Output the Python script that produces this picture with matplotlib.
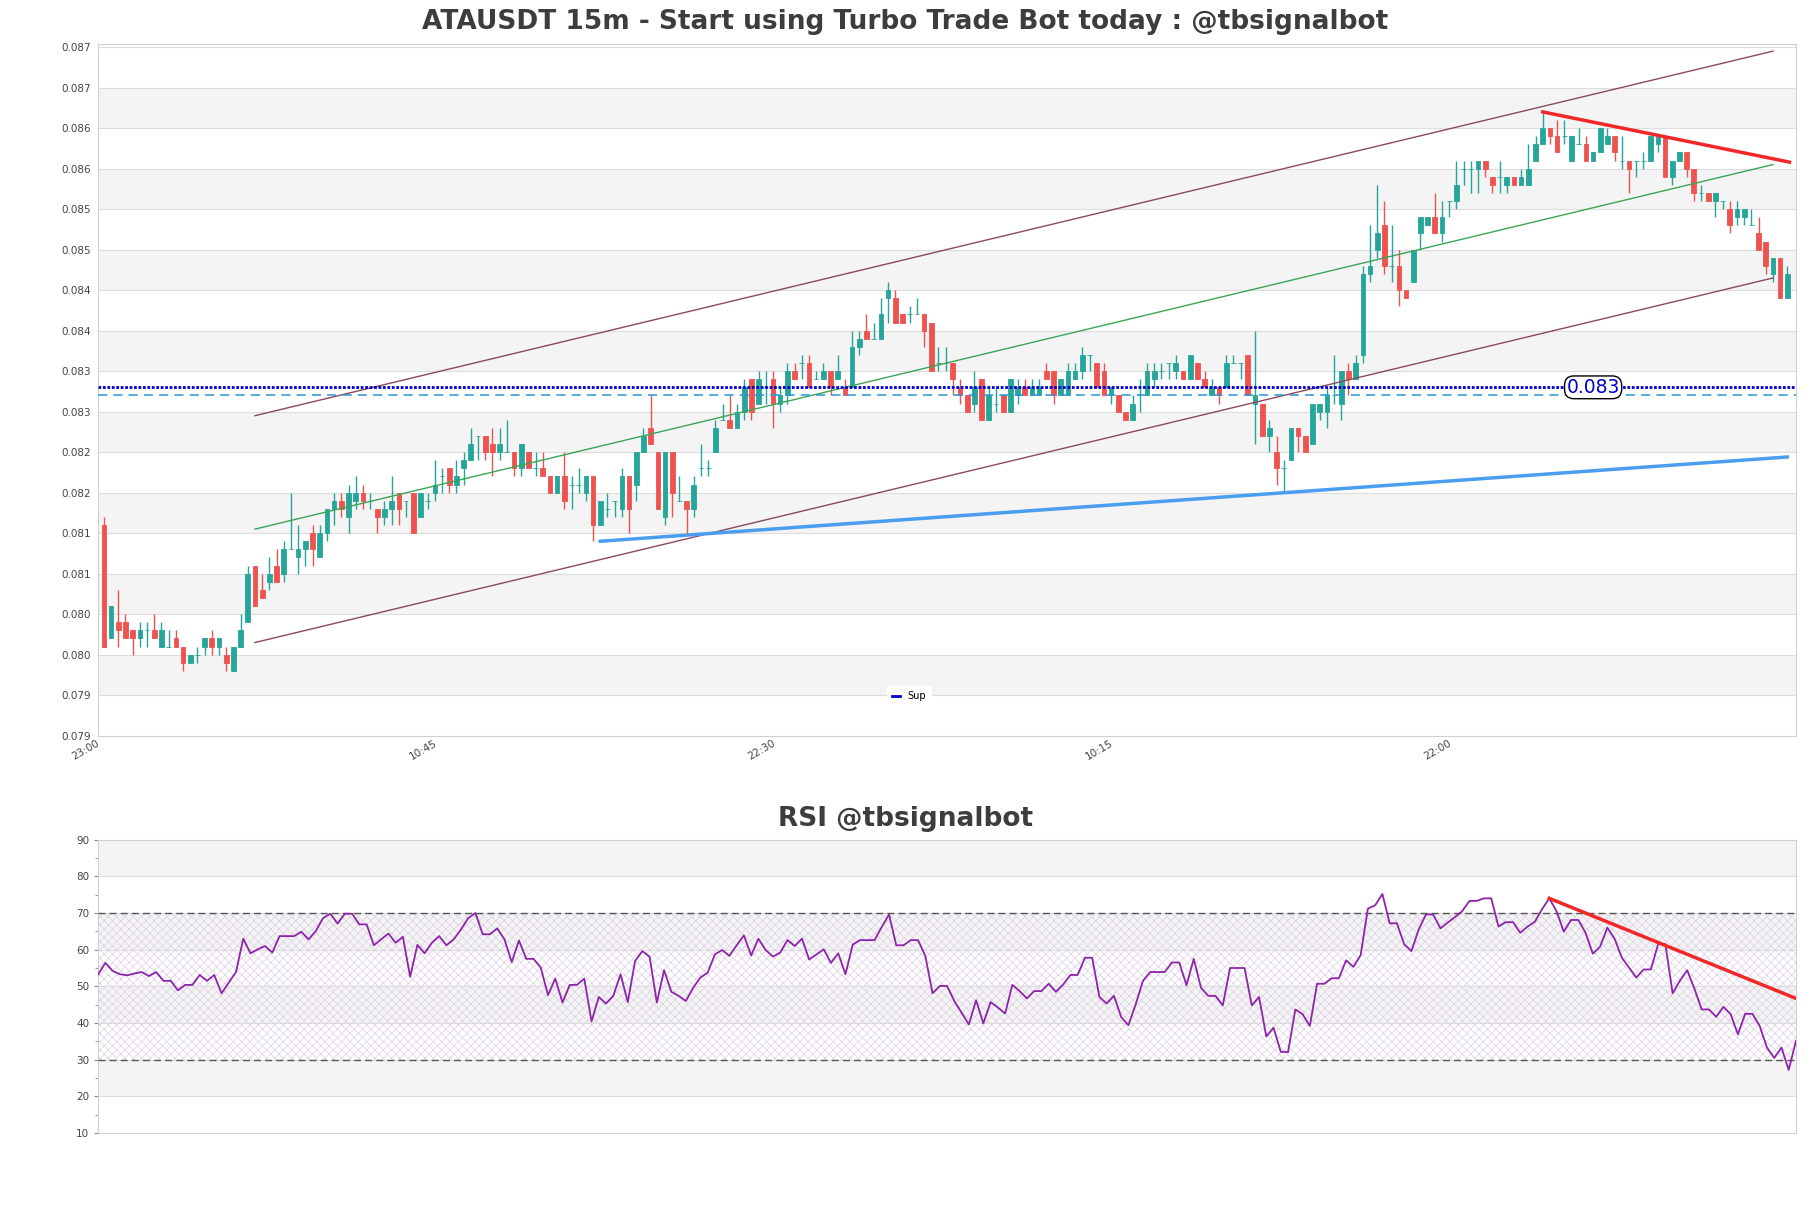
import matplotlib
matplotlib.use("Agg")
import matplotlib.pyplot as plt
from matplotlib.lines import Line2D
from matplotlib.ticker import MultipleLocator
from matplotlib.transforms import ScaledTranslation
import numpy as np

# ---- data (prices in units of 0.0001 USDT, one candle per 15 minutes) ----
TICK = 0.0001

opens = [816, 802, 804, 804, 803, 802, 803, 803, 801, 801, 802, 801, 799, 800, 801, 802, 801, 800, 798, 801,
         804, 811, 808, 809, 811, 810, 813, 812, 813, 815, 812, 815, 818, 819, 817, 819, 820, 819, 818, 817,
         818, 820, 819, 820, 817, 819, 820, 822, 823, 821, 823, 824, 827, 827, 826, 825, 825, 825, 823, 825,
         823, 823, 822, 820, 822, 821, 821, 820, 822, 816, 818, 819, 818, 822, 821, 825, 828, 825, 817, 825,
         819, 819, 818, 823, 823, 825, 829, 829, 828, 830, 834, 831, 833, 834, 831, 832, 835, 836, 836, 834,
         834, 835, 834, 833, 833, 838, 840, 839, 839, 844, 844, 842, 842, 842, 842, 841, 836, 836, 836, 833,
         832, 831, 834, 829, 831, 832, 830, 832, 833, 832, 832, 835, 835, 832, 832, 834, 835, 837, 836, 835,
         832, 832, 830, 829, 832, 832, 834, 835, 836, 835, 835, 834, 836, 834, 832, 833, 833, 836, 836, 837,
         831, 831, 827, 825, 823, 824, 828, 827, 826, 830, 830, 832, 831, 835, 834, 837, 847, 850, 853, 848,
         848, 845, 846, 852, 853, 854, 852, 856, 856, 860, 860, 860, 861, 859, 859, 858, 859, 858, 858, 861,
         863, 865, 864, 864, 861, 863, 863, 861, 862, 863, 864, 861, 861, 861, 861, 861, 863, 864, 859, 861,
         862, 860, 857, 857, 856, 856, 855, 854, 854, 853, 852, 851, 847, 849, 844]
highs = [817, 806, 808, 805, 803, 804, 804, 805, 804, 803, 803, 801, 800, 801, 802, 803, 802, 801, 801, 805,
         811, 811, 810, 812, 813, 814, 820, 816, 814, 816, 816, 818, 820, 820, 821, 822, 821, 820, 818, 819,
         822, 820, 819, 820, 820, 820, 824, 823, 823, 824, 825, 828, 827, 827, 828, 828, 829, 825, 826, 825,
         825, 825, 822, 822, 825, 822, 823, 822, 822, 819, 820, 819, 823, 822, 825, 828, 832, 825, 825, 825,
         822, 819, 822, 826, 824, 829, 831, 832, 831, 834, 834, 835, 835, 835, 833, 836, 836, 837, 837, 835,
         836, 835, 837, 834, 840, 840, 842, 841, 844, 846, 845, 842, 843, 844, 842, 841, 838, 838, 836, 834,
         832, 835, 834, 833, 833, 832, 834, 834, 834, 834, 834, 836, 835, 834, 836, 836, 838, 837, 836, 836,
         833, 832, 830, 832, 834, 836, 836, 836, 836, 837, 835, 837, 836, 835, 834, 833, 837, 837, 836, 837,
         840, 831, 829, 827, 824, 828, 828, 827, 831, 831, 833, 837, 835, 836, 837, 848, 853, 858, 856, 853,
         850, 845, 850, 854, 854, 857, 856, 856, 861, 861, 861, 861, 861, 859, 861, 859, 859, 860, 863, 864,
         867, 865, 866, 866, 864, 865, 864, 862, 865, 865, 864, 864, 861, 861, 862, 864, 864, 864, 861, 862,
         862, 860, 858, 857, 857, 856, 856, 856, 855, 855, 854, 851, 849, 849, 848]
lows = [801, 802, 801, 802, 800, 801, 801, 802, 801, 801, 801, 798, 799, 799, 800, 800, 800, 798, 798, 801,
        804, 806, 807, 808, 809, 809, 813, 810, 811, 811, 812, 814, 816, 817, 815, 818, 818, 818, 815, 816,
        816, 816, 817, 815, 817, 818, 819, 820, 820, 820, 821, 824, 824, 824, 822, 824, 825, 822, 822, 823,
        822, 822, 820, 820, 818, 818, 820, 819, 814, 816, 817, 817, 817, 815, 819, 825, 826, 818, 816, 817,
        819, 815, 817, 822, 822, 825, 829, 828, 828, 829, 829, 831, 831, 828, 830, 831, 834, 834, 833, 834,
        834, 832, 834, 832, 833, 837, 839, 839, 839, 841, 841, 841, 841, 842, 838, 835, 835, 835, 832, 831,
        830, 830, 829, 829, 830, 830, 830, 831, 832, 832, 832, 834, 831, 832, 832, 834, 834, 835, 833, 832,
        831, 830, 829, 829, 830, 832, 833, 834, 834, 834, 834, 834, 834, 833, 832, 831, 833, 836, 834, 832,
        826, 827, 825, 821, 820, 824, 825, 825, 826, 829, 828, 831, 829, 832, 834, 836, 846, 849, 847, 846,
        843, 844, 846, 850, 853, 852, 851, 854, 855, 858, 857, 857, 859, 857, 857, 857, 858, 858, 858, 861,
        863, 863, 862, 863, 861, 863, 861, 861, 862, 863, 861, 860, 857, 859, 860, 861, 862, 859, 858, 861,
        859, 856, 856, 856, 854, 855, 852, 853, 853, 853, 850, 847, 846, 844, 844]
closes = [801, 806, 803, 802, 802, 803, 803, 802, 803, 801, 801, 799, 800, 800, 802, 801, 802, 799, 801, 803,
          810, 806, 807, 810, 809, 813, 813, 813, 814, 813, 815, 818, 819, 818, 820, 820, 819, 819, 817, 818,
          819, 818, 819, 815, 820, 819, 821, 822, 821, 822, 824, 826, 827, 825, 825, 826, 825, 823, 826, 823,
          823, 822, 820, 822, 819, 821, 821, 822, 816, 819, 818, 819, 822, 818, 825, 827, 826, 818, 825, 820,
          819, 818, 821, 823, 823, 828, 829, 828, 830, 833, 830, 834, 833, 831, 832, 835, 834, 836, 833, 834,
          835, 833, 835, 832, 838, 839, 839, 839, 842, 845, 841, 841, 842, 842, 840, 835, 836, 836, 834, 832,
          830, 833, 829, 832, 831, 830, 834, 833, 832, 833, 833, 834, 832, 834, 835, 835, 837, 837, 833, 832,
          833, 830, 829, 831, 832, 835, 835, 835, 836, 836, 834, 837, 834, 833, 833, 832, 836, 836, 836, 832,
          832, 827, 828, 823, 823, 828, 827, 825, 831, 831, 832, 832, 835, 834, 836, 847, 848, 852, 848, 848,
          845, 844, 850, 854, 854, 852, 854, 856, 858, 860, 860, 861, 860, 858, 859, 859, 858, 859, 860, 863,
          865, 864, 862, 864, 864, 863, 861, 862, 865, 864, 862, 861, 860, 861, 861, 864, 864, 859, 861, 862,
          860, 857, 857, 856, 857, 856, 853, 855, 855, 853, 850, 848, 849, 844, 847]

rsi = [53.3, 56.4, 54.2, 53.3, 53.0, 53.5, 53.9, 52.8, 53.9, 51.5, 51.5, 48.9, 50.4, 50.4, 53.1, 51.5, 53.1, 48.1,
       51.0, 53.9, 63.0, 59.0, 60.1, 61.0, 59.2, 63.7, 63.7, 63.7, 64.9, 62.8, 65.1, 68.6, 69.8, 67.1, 69.8, 69.8,
       66.9, 66.9, 61.2, 62.8, 64.4, 61.9, 63.5, 52.6, 61.3, 59.0, 61.9, 63.7, 61.2, 62.8, 65.5, 68.6, 70.0, 64.2,
       64.2, 65.8, 62.8, 56.6, 62.5, 57.5, 57.5, 55.1, 47.6, 52.1, 45.6, 50.4, 50.4, 52.1, 40.4, 47.1, 45.3, 47.4,
       53.3, 45.7, 56.9, 59.6, 58.1, 45.6, 54.4, 48.5, 47.4, 46.0, 49.6, 52.4, 53.7, 58.7, 59.9, 58.3, 61.2, 63.9,
       58.4, 63.0, 59.9, 58.1, 59.2, 62.6, 61.0, 63.0, 57.3, 58.7, 60.1, 56.4, 59.0, 53.3, 61.4, 62.6, 62.6, 62.6,
       66.2, 69.6, 61.2, 61.2,
       62.6, 62.6, 58.3, 48.1, 50.1, 50.1, 46.0, 42.8, 39.6, 46.2, 39.9, 45.7, 44.2, 42.6, 50.4, 48.7, 46.7, 48.7,
       48.7, 50.7, 48.5, 50.5, 53.1, 53.1, 57.8, 57.8, 47.1, 45.3, 47.4, 41.6, 39.4, 45.1, 51.5, 53.9, 53.9, 53.9,
       56.5, 56.5, 50.3, 57.5, 49.6, 47.4, 47.4, 44.8, 55.0, 55.0, 55.0, 44.8, 47.1, 36.3, 38.7, 32.1, 32.1, 43.7,
       42.4, 39.2, 50.7, 50.7, 52.2, 52.2, 57.1, 55.3, 58.5, 71.2, 72.1, 75.2, 67.2, 67.2, 61.5, 59.6, 65.5, 69.6,
       69.6, 65.8, 67.4, 68.9, 70.5, 73.3, 73.3, 74.0, 74.0, 66.3, 67.5, 67.5, 64.6, 66.3, 67.6, 71.0, 74.0, 70.5,
       64.9, 68.1, 68.1, 64.6, 58.9, 60.8, 66.0, 63.0, 57.8, 55.1, 52.4, 54.6, 54.6, 61.5, 61.5, 48.1, 51.5, 54.4,
       49.4, 43.7, 43.7, 41.7, 44.4, 42.4, 36.9, 42.5, 42.5, 39.2, 33.3, 30.5, 33.3, 27.2, 35.1]

time_ticks = [0, 47, 94, 141, 188]
time_labels = ["23:00", "10:45", "22:30", "10:15", "22:00"]
price_ticks = [0.0790, 0.0795, 0.0800, 0.0805, 0.0810, 0.0815, 0.0820, 0.0825, 0.0830,
               0.0835, 0.0840, 0.0845, 0.0850, 0.0855, 0.0860, 0.0865, 0.0870, 0.0875]
price_labels = ["0.079", "0.079", "0.080", "0.080", "0.081", "0.081", "0.082", "0.082", "0.083",
                "0.083", "0.084", "0.084", "0.085", "0.085", "0.086", "0.086", "0.087", "0.087"]

# trend lines: (candle index, value)
channel_x = [21, 232]
channel_mid = [0.08155, 0.08605]
channel_width = 0.0014
resist_x, resist_y = [200, 234.3], [0.0867, 0.08608]
support_x, support_y = [69, 234], [0.08140, 0.08244]
sup_level = 0.0833
dash_level = 0.0832
rsi_trend_x, rsi_trend_y = [200, 234], [74.0, 46.7]

GREEN = "#26a69a"
RED = "#ef5350"
TXT = "#444444"
BAND = "#f4f4f4"
SUP = "#0000cc"

o = np.array(opens) * TICK
h = np.array(highs) * TICK
l = np.array(lows) * TICK
c = np.array(closes) * TICK
x = np.arange(len(o))
col = np.where(c >= o, GREEN, RED)

plt.rcParams["hatch.linewidth"] = 0.5
fig = plt.figure(figsize=(18.11, 12.08), dpi=100)
ax = fig.add_axes([0.0542, 0.391, 0.9375, 0.5727])
ax2 = fig.add_axes([0.0542, 0.0621, 0.9375, 0.2428])

# ---- price panel ----
for k in range(1, len(price_ticks) - 1, 2):
    ax.axhspan(price_ticks[k], price_ticks[k + 1], color=BAND, zorder=0, lw=0)
ax.set_yticks(price_ticks)
ax.set_yticklabels(price_labels)
ax.grid(axis="y", color="#dddddd", lw=0.8, zorder=1)
ax.set_axisbelow(True)

ax.vlines(x, l, h, colors=col, lw=1.0, zorder=3)
ax.bar(x, np.abs(c - o), bottom=np.minimum(o, c), width=0.65, color=col,
       edgecolor=col, lw=0.6, zorder=4)

mid = np.array(channel_mid)
ax.plot(channel_x, mid, color="#3aa655", lw=1.0, zorder=5)
ax.plot(channel_x, mid + channel_width, color="#8b4a5c", lw=1.0, zorder=5)
ax.plot(channel_x, mid - channel_width, color="#8b4a5c", lw=1.0, zorder=5)
ax.plot(resist_x, resist_y, color="#f02828", lw=2.5, zorder=5)
ax.plot(support_x, support_y, color="#4a9ef0", lw=2.5, zorder=5)
ax.axhline(dash_level, color="#2b95d6", lw=1.1, ls=(0, (6, 4)), zorder=5)
ax.axhline(sup_level, color=SUP, lw=2.0, ls=(0, (1, 0.6)), zorder=5)
ax.text(207, sup_level, "0.083", color=SUP, fontsize=13.5, ha="center", va="center", zorder=7,
        bbox=dict(boxstyle="round,pad=0.1,rounding_size=0.5", fc="white", ec="black", lw=1))

ax.set_xlim(-0.8, 235.2)
ax.set_ylim(0.0790, 0.08754)
ax.set_xticks(time_ticks)
ax.set_xticklabels(time_labels, rotation=30, ha="right", rotation_mode="anchor")
ax.tick_params(axis="both", length=0, labelsize=7.5, labelcolor=TXT, pad=5)
ax.tick_params(axis="x", pad=2)
shift = ScaledTranslation(-8 / 100, 0, fig.dpi_scale_trans)
for lab in ax.get_xticklabels():
    lab.set_transform(lab.get_transform() + shift)
for s in ax.spines.values():
    s.set_color("#d0d0d0")
ax.legend(handles=[Line2D([], [], color=SUP, lw=2)], labels=["Sup"], loc="center",
          bbox_to_anchor=(0.4775, 0.057), fontsize=7, handlelength=0.8, frameon=True,
          framealpha=1, edgecolor="white", borderpad=0.5)

# ---- RSI panel ----
xr = np.arange(len(rsi))
for lo, hi in [(20, 30), (40, 50), (60, 70), (80, 90)]:
    ax2.axhspan(lo, hi, color=BAND, zorder=0, lw=0)
ax2.fill_between([0, len(rsi) - 1], 30, 70, facecolor="none", hatch="xxxx", edgecolor="#dccfe2", lw=0, zorder=1)
ax2.grid(axis="y", color="#dddddd", lw=0.8, zorder=1)
ax2.set_axisbelow(True)
ax2.axhline(70, color="#555555", lw=1.0, ls=(0, (5, 3)), zorder=3)
ax2.axhline(30, color="#555555", lw=1.0, ls=(0, (5, 3)), zorder=3)
ax2.plot(xr, rsi, color="#8e24aa", lw=1.3, zorder=4)
ax2.plot(rsi_trend_x, rsi_trend_y, color="#f02828", lw=2.5, zorder=5)
ax2.set_xlim(0, len(rsi) - 1)
ax2.set_ylim(10, 90)
ax2.yaxis.set_major_locator(MultipleLocator(10))
ax2.yaxis.set_minor_locator(MultipleLocator(5))
ax2.set_xticks([])
ax2.tick_params(axis="y", which="major", length=3, color="#888888", labelsize=7.5, labelcolor=TXT)
ax2.tick_params(axis="y", which="minor", length=2, color="#888888")
for s in ax2.spines.values():
    s.set_color("#d0d0d0")

fig.text(0.5, 0.982, "ATAUSDT 15m - Start using Turbo Trade Bot today : @tbsignalbot", ha="center",
         va="center", fontsize=19, fontweight="bold", color="#3d3d3d")
fig.text(0.5, 0.3222, "RSI @tbsignalbot", ha="center", va="center", fontsize=19, fontweight="bold",
         color="#3d3d3d")

fig.savefig("out.png", dpi=100)
